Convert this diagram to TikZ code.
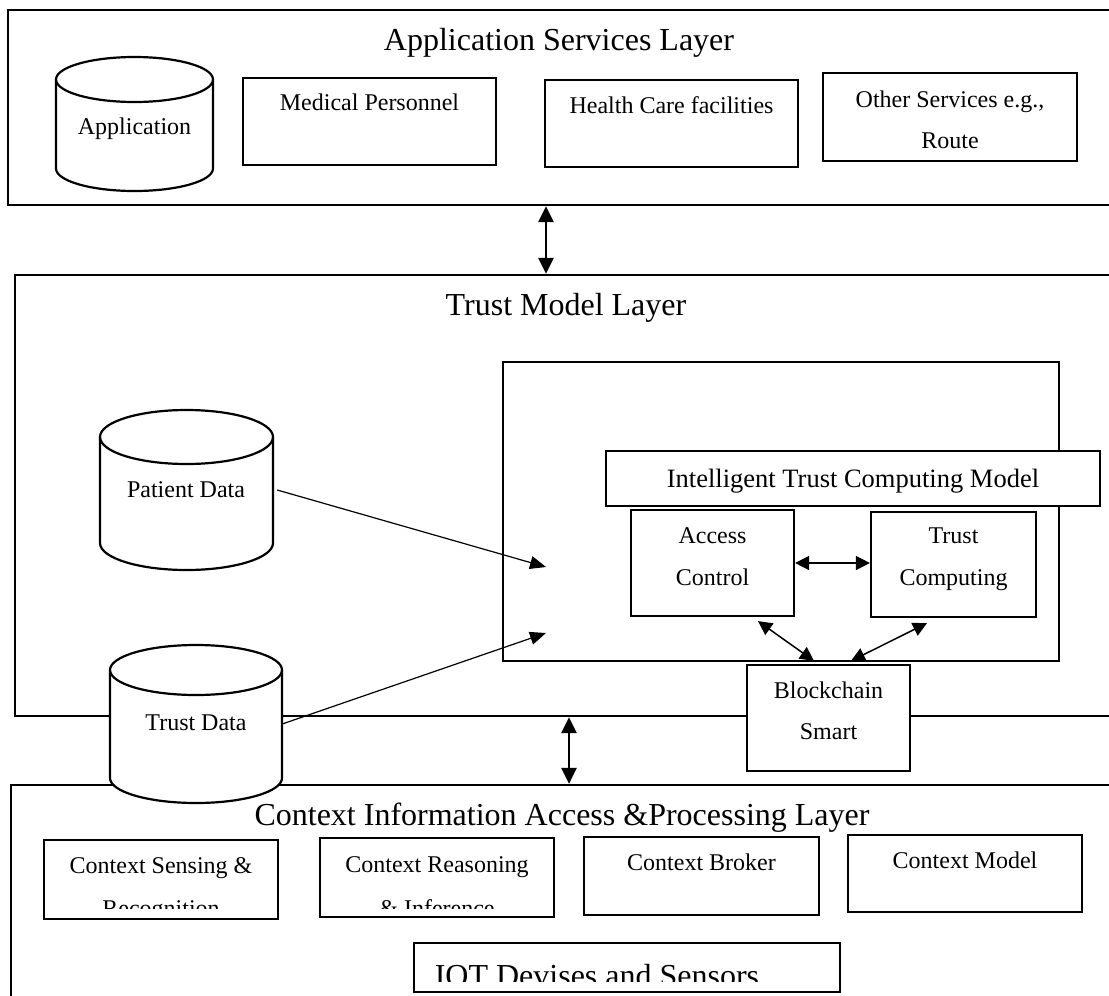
\documentclass[tikz,border=0pt]{standalone}
\usepackage{fontspec}
\setmainfont{Liberation Serif}
\usetikzlibrary{arrows.meta,calc}
\newcommand{\dbcyl}[6]{% name, cx, cy, rx, half-height, ry
  \filldraw[cyl] (#2-#4,#3-#5+#6) -- (#2-#4,#3+#5-#6)
    arc[start angle=180,end angle=360,x radius=#4pt,y radius=#6pt]
    -- (#2+#4,#3-#5+#6)
    arc[start angle=0,end angle=180,x radius=#4pt,y radius=#6pt] -- cycle;
  \draw[cyl,fill=none] (#2-#4,#3-#5+#6)
    arc[start angle=180,end angle=360,x radius=#4pt,y radius=#6pt];
  \node[inner sep=0pt, minimum width={2*#4}, minimum height={2*#5}] (#1) at (#2,#3) {};
}
\begin{document}
\begin{tikzpicture}[x=1pt,y=-1pt,
  layer/.style={draw, line width=2.2pt, rectangle, inner sep=0pt},
  box/.style={draw, line width=2.2pt, fill=white, rectangle, inner sep=0pt},
  ttl/.style={font=\fontsize{32}{38}\selectfont, inner sep=0pt, anchor=base},
  lbl/.style={font=\fontsize{24}{29}\selectfont, inner sep=0pt, anchor=base},
  cyl/.style={draw, line width=2.2pt, fill=white},
  thinarrow/.style={line width=1.2pt, -{Triangle[length=16pt,width=13pt]}},
  dblthick/.style={line width=2.8pt, {Triangle[length=16pt,width=15pt]}-{Triangle[length=16pt,width=15pt]}},
  dblthin/.style={line width=1.5pt, {Triangle[length=14pt,width=14pt]}-{Triangle[length=14pt,width=14pt]}},
]
\useasboundingbox (0,0) rectangle (1109,996);
\clip (0,0) rectangle (1109,996);

% layers
\node[layer, minimum width=1112pt, minimum height=195pt] (L1) at (564,107.5) {};
\node[layer, minimum width=1105pt, minimum height=441pt] (L2) at (567.5,495.5) {};
\node[layer, minimum width=1109pt, minimum height=225pt] (L3) at (565.5,897.5) {};

\node[ttl] (t1) at (559,50) {Application Services Layer};
\node[ttl] (t2) at (566,315) {Trust Model Layer};
\node[ttl] (t3) at (562,825) {Context Information Access \&Processing Layer};

% application services layer
\dbcyl{app}{134.5}{124}{78.5}{67}{22.5}
\node[lbl] (appT) at (134.5,134) {Application};
\node[box, minimum width=253pt, minimum height=87pt] (med) at (369.5,121.5) {};
\node[lbl] (medT) at (369.5,110) {Medical Personnel};
\node[box, minimum width=253pt, minimum height=87pt] (hcf) at (671.5,123.5) {};
\node[lbl] (hcfT) at (671.5,113) {Health Care facilities};
\node[box, minimum width=254pt, minimum height=88pt] (oth) at (950,117) {};
\node[lbl] (othT1) at (950,107) {Other Services e.g.,};
\node[lbl] (othT2) at (950,148) {Route};

% trust model layer
\node[layer, minimum width=556pt, minimum height=299pt] (inner) at (781,511.5) {};
\node[box, minimum width=494pt, minimum height=55pt] (itcm) at (853,478.5) {};
\node[lbl, font=\fontsize{26.5}{30}\selectfont] (itcmT) at (853,487) {Intelligent Trust Computing Model};
\node[box, minimum width=163pt, minimum height=106pt] (ac) at (712.5,563) {};
\node[lbl] (acT1) at (712.5,543) {Access};
\node[lbl] (acT2) at (712.5,585) {Control};
\node[box, minimum width=165pt, minimum height=105pt] (tc) at (953.5,564.5) {};
\node[lbl] (tcT1) at (953.5,543) {Trust};
\node[lbl] (tcT2) at (953.5,585) {Computing};
\node[box, minimum width=163pt, minimum height=106pt] (bc) at (828.5,718) {};
\node[lbl] (bcT1) at (828.5,698) {Blockchain};
\node[lbl] (bcT2) at (828.5,739) {Smart};

\dbcyl{pd}{186.5}{490}{86.5}{80}{27}
\node[lbl] (pdT) at (186,497) {Patient Data};
\dbcyl{td}{196}{724}{86}{79}{25}
\node[lbl] (tdT) at (196,730) {Trust Data};

% context layer
\node[box, minimum width=234pt, minimum height=79pt] (csr) at (161,879.5) {};
\node[lbl] (csrT1) at (161,873) {Context Sensing \&};
\begin{scope}
  \clip (csr.north west) rectangle ([yshift=12pt]csr.south east);
  \node[lbl] (csrT2) at (161,916) {Recognition};
\end{scope}
\node[box, minimum width=234.5pt, minimum height=79pt] (cri) at (437,877.5) {};
\node[lbl] (criT1) at (437,872) {Context Reasoning};
\begin{scope}
  \clip (cri.north west) rectangle ([yshift=10pt]cri.south east);
  \node[lbl] (criT2) at (437,916) {\& Inference};
\end{scope}
\node[box, minimum width=235pt, minimum height=78pt] (cb) at (701.5,876) {};
\node[lbl] (cbT) at (701.5,870) {Context Broker};
\node[box, minimum width=234pt, minimum height=77pt] (cm) at (965,873.5) {};
\node[lbl] (cmT) at (965,868) {Context Model};
\node[box, minimum width=426pt, minimum height=49pt] (iot) at (627,967.5) {};
\begin{scope}
  \clip (iot.north west) rectangle ([yshift=12pt]iot.south east);
  \node[ttl] (iotT) at (597,986) {IOT Devises and Sensors};
\end{scope}

% connectors
\coordinate (p1) at (546,567);
\coordinate (p2) at (546,633);
\draw[thinarrow] ([xshift=4pt]pd.east) -- (p1);
\draw[thinarrow] (td.east) -- (p2);

\coordinate (v1) at (546,0);
\coordinate (v2) at (569,0);
\draw[dblthick] (v1 |- L1.south) -- (v1 |- L2.north);
\draw[dblthick] (v2 |- L2.south) -- (v2 |- L3.north);

\draw[dblthin] (ac.east) -- (ac.east -| tc.west);
\draw[dblthin] ([xshift=45.5pt,yshift=-4pt]ac.south) -- ([xshift=-14.5pt,yshift=3pt]bc.north);
\draw[dblthin] ([xshift=-26.5pt,yshift=-5pt]tc.south) -- ([xshift=22.5pt,yshift=3pt]bc.north);
\end{tikzpicture}
\end{document}
